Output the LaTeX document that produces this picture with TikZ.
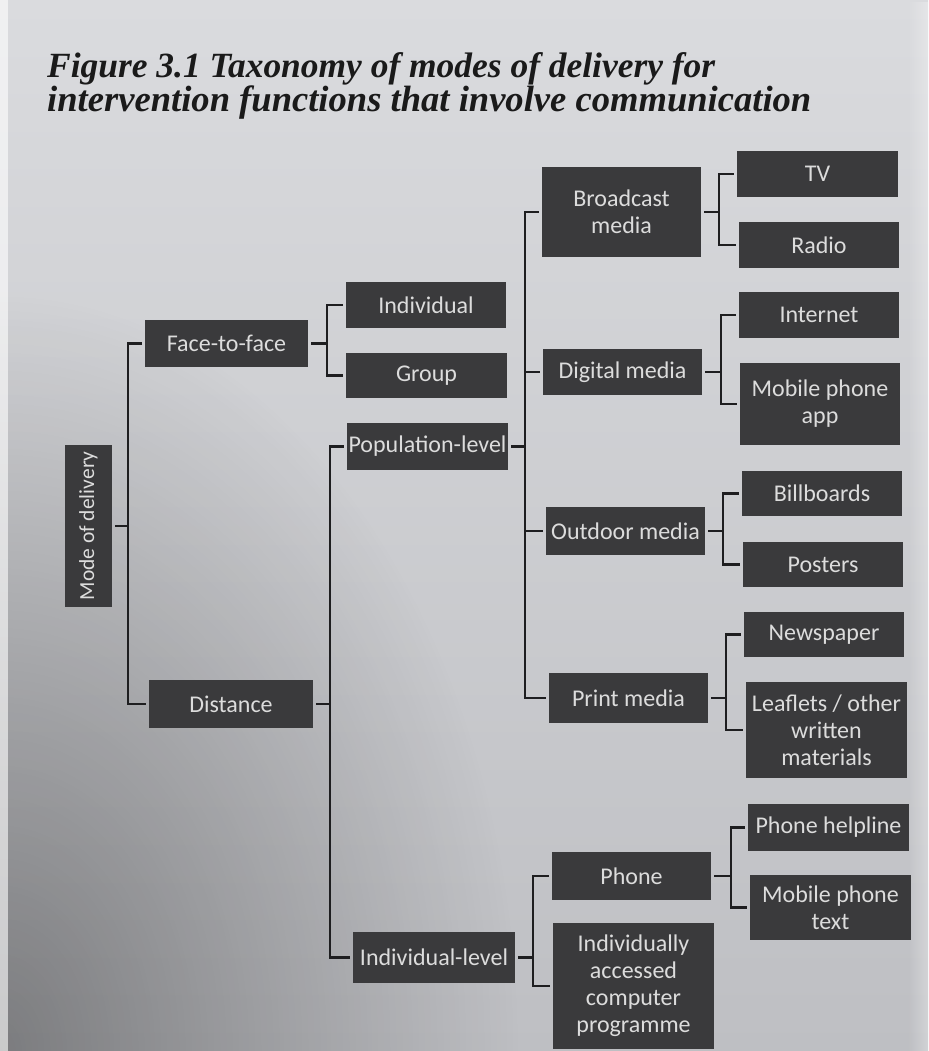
\documentclass[tikz,border=0pt]{standalone}
\usepackage{fontspec}
\setmainfont{Carlito}
\newfontfamily\titlefont{Liberation Serif}
\usetikzlibrary{fadings}

\definecolor{boxgrey}{HTML}{3A3A3C}
\definecolor{boxtext}{HTML}{DCDCDC}
\definecolor{linegrey}{HTML}{1E1E20}
\definecolor{papertop}{HTML}{DADBDE}
\definecolor{paperbot}{HTML}{BEBFC3}
\definecolor{titleink}{HTML}{1A1A1A}

\tikzfading[name=cornershade, inner color=transparent!0, outer color=transparent!100]

\tikzset{
  box/.style={fill=boxgrey, text=boxtext, inner sep=0pt, outer sep=3pt,
              align=center, font=\fontsize{24}{27}\selectfont},
  conn/.style={draw=linegrey, line width=2.8pt},
  titleline/.style={anchor=base west, inner sep=0pt, text=titleink,
              font=\titlefont\bfseries\itshape\fontsize{34}{40}\selectfont}
}

% box from its left, top, right and bottom edges
\newcommand\mkbox[6]{%
  \pgfmathsetmacro\bw{#4-#2}\pgfmathsetmacro\bh{#5-#3}%
  \pgfmathsetmacro\bx{(#2+#4)/2}\pgfmathsetmacro\by{-(#3+#5)/2}%
  \node[box, minimum width=\bw pt, minimum height=\bh pt] (#1) at (\bx,\by) {#6};}

% bracket from a parent anchor to a list of children
\newcommand\fork[3]{%
  \draw[conn] (#1) -- ++(#2,0) coordinate (fk);
  \foreach \c in {#3} \draw[conn] (fk) |- (\c.west);}

\begin{document}
\begin{tikzpicture}[x=1pt,y=1pt]
  % page, darker towards the lower left corner
  \useasboundingbox (0,0) rectangle (928,-1051);
  \shade[top color=papertop, bottom color=paperbot] (0,0) rectangle (928,-1051);
  \begin{scope}
    \clip (0,0) rectangle (928,-1051);
    \fill[black, opacity=0.35, path fading=cornershade] (0,-1051) ellipse [x radius=520, y radius=760];
  \end{scope}
  \fill[white, opacity=0.6] (0,0) rectangle (8,-1051);
  \fill[white, opacity=0.3, path fading=west] (908,0) rectangle (928,-1051);

  % title
  \node[titleline] (t1) at (47,-78) {\resizebox{668pt}{!}{Figure 3.1 Taxonomy of modes of delivery for}};
  \node[titleline] (t2) at (47,-112) {\resizebox{764pt}{!}{intervention functions that involve communication}};

  % root
  \node[box, rotate=90, minimum width=162pt, minimum height=47pt,
        font=\fontsize{21.5}{24}\selectfont] (mode) at (88.5,-526) {Mode of delivery};

  % second level
  \mkbox{f2f}{145}{320}{308}{367}{Face-to-face}
  \mkbox{dist}{149}{680}{313}{728}{Distance}

  % third level
  \mkbox{indiv}{346}{282}{506}{328}{Individual}
  \mkbox{group}{346}{353}{507}{398}{Group}
  \mkbox{pop}{347}{423}{508}{470}{Population-level}
  \mkbox{indlev}{353}{932}{515}{983}{Individual-level}

  % fourth level
  \mkbox{broad}{542}{167}{701}{257}{Broadcast\\media}
  \mkbox{digital}{543}{349}{702}{395}{Digital media}
  \mkbox{outdoor}{546}{507}{705}{555}{Outdoor media}
  \mkbox{print}{549}{673}{708}{723}{Print media}
  \mkbox{phone}{552}{852}{711}{900}{Phone}
  \mkbox{iacp}{553}{923}{714}{1049}{Individually\\accessed\\computer\\programme}

  % fifth level
  \mkbox{tv}{737}{151}{898}{197}{TV}
  \mkbox{radio}{739}{222}{899}{268}{Radio}
  \mkbox{internet}{739}{292}{899}{338}{Internet}
  \mkbox{mpa}{740}{363}{900}{445}{Mobile phone\\app}
  \mkbox{bill}{742}{471}{902}{516}{Billboards}
  \mkbox{posters}{743}{542}{903}{587}{Posters}
  \mkbox{news}{744}{612}{904}{657}{Newspaper}
  \mkbox{leaflets}{746}{682}{907}{778}{Leaflets / other\\written\\materials}
  \mkbox{helpline}{748}{804}{909}{851}{Phone helpline}
  \mkbox{mpt}{750}{875}{911}{940}{Mobile phone\\text}

  % connectors
  \fork{mode.south}{13}{f2f,dist}
  \fork{f2f.east}{16}{indiv,group}
  \fork{dist.east}{14}{pop,indlev}
  \fork{pop.east}{14}{broad,digital,outdoor,print}
  \fork{indlev.east}{15}{phone,iacp}
  \fork{broad.east}{15}{tv,radio}
  \fork{digital.east}{16}{internet,mpa}
  \fork{outdoor.east}{15}{bill,posters}
  \fork{print.east}{15}{news,leaflets}
  \fork{phone.east}{17}{helpline,mpt}
\end{tikzpicture}
\end{document}
